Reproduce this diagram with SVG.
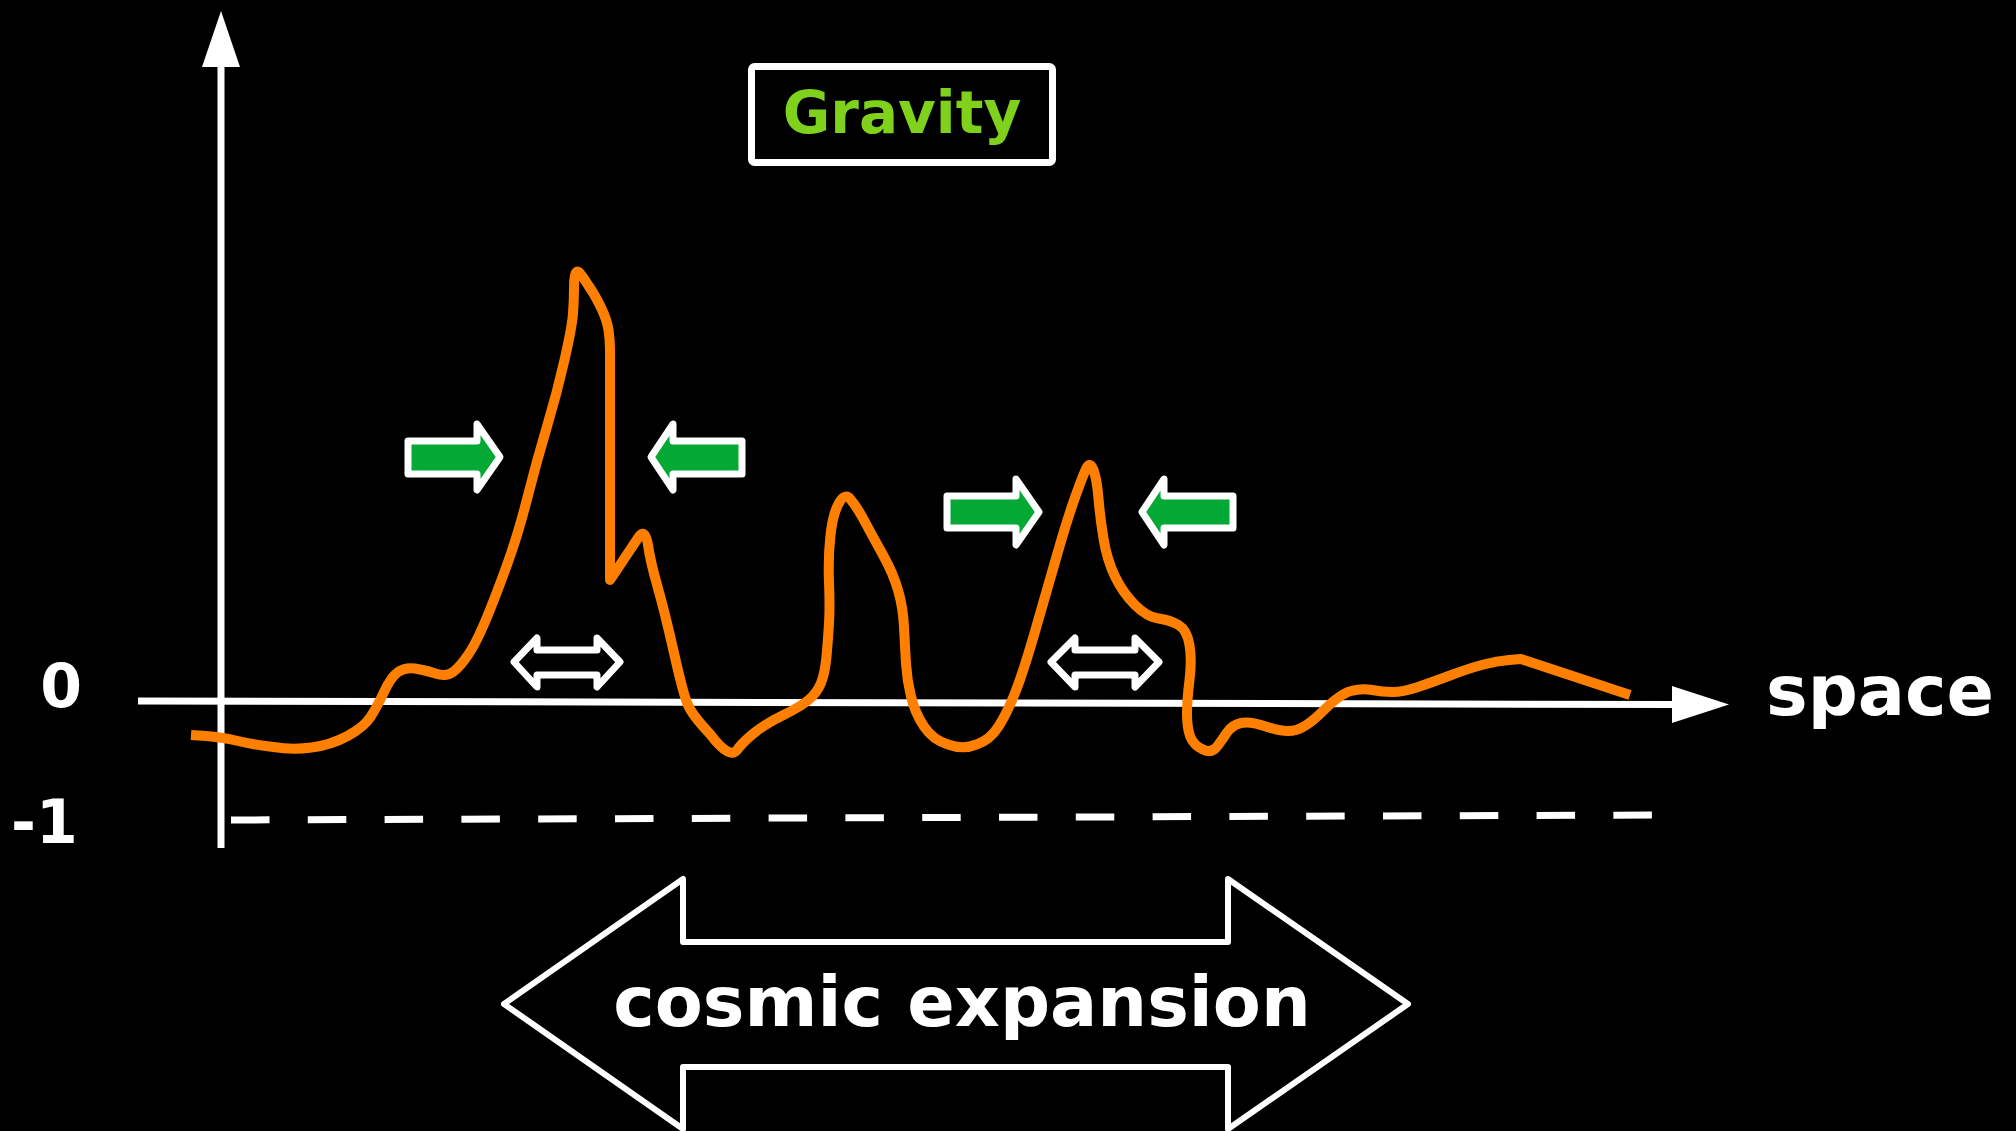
<svg xmlns="http://www.w3.org/2000/svg" width="2016" height="1131" viewBox="0 0 2016 1131">
  <style>
    .lbl { font-family: "DejaVu Sans", "Liberation Sans", sans-serif; font-weight: bold; fill: #ffffff; }
    .axis { stroke: #ffffff; stroke-width: 7; fill: none; }
    .green { fill: #03a934; stroke: #ffffff; stroke-width: 7; stroke-linejoin: round; }
    .dbl { fill: #000000; stroke: #ffffff; stroke-width: 7; stroke-linejoin: round; }
    .curve { fill: none; stroke: #ff8000; stroke-width: 10; stroke-linejoin: round; stroke-linecap: butt; }
  </style>
  <rect x="0" y="0" width="2016" height="1131" fill="#000000"/>

  <g id="connectors">
    <g id="y-axis">
      <line class="axis" x1="221" y1="60" x2="221" y2="848"/>
      <polygon points="221,11 202,67 240,67" fill="#ffffff"/>
    </g>
    <g id="x-axis">
      <line class="axis" x1="138" y1="701" x2="1675" y2="704.5"/>
      <polygon points="1672,686 1729,704.5 1672,723" fill="#ffffff"/>
    </g>
    <line id="minus-one-line" class="axis" x1="231" y1="820" x2="1652" y2="815" stroke-dasharray="38.5 38.3"/>
  </g>

  <g id="axis-labels">
    <text class="lbl" x="61" y="707" font-size="60" text-anchor="middle">0</text>
    <text class="lbl" x="11" y="843" font-size="60">-1</text>
    <text class="lbl" x="1880" y="715" font-size="70" text-anchor="middle">space</text>
  </g>

  <g id="density-curve">
    <path class="curve" d="M191,735 L206,736 Q221,737 238,741 Q255,745 273.5,747 Q292,750 311.5,747.5 Q331,745 347.5,736 Q364,727 370.5,717 Q377,707 384,692 Q391,677 398,672 Q405,667 415,668.5 Q425,670 435.5,673.5 Q446,677 453,672 Q460,667 469,653.5 Q478,640 490.5,608.5 Q503,577 511.5,552 Q520,527 528.5,493.5 Q537,460 547,426.5 Q557,393 564.5,360 Q572,327 573,313.5 Q574,300 574,288 Q574,274 576,272.5 Q578,270 580.5,274 Q583,277 589,286.5 Q595,295 601,307.5 Q607,320 608.5,330 Q610,340 610,350 L610,580 L638,538 Q645,527 648,545 Q650,560 657.5,586.5 Q665,613 674,653 Q683,693 687.5,704 Q692,715 710,734 Q731,762 738.5,748 Q745,740 756,731.5 Q767,723 783.5,715 Q800,707 808.5,700 Q817,693 821,683 Q825,673 826.5,656.5 Q828,640 829,623.5 Q830,607 829,582 Q828,557 830.5,535 Q833,513 839,503 Q845,492 851,500 Q857,507 865,522 Q873,537 883,555 Q893,573 898,590 Q903,607 904,627 Q905,647 906,663.5 Q907,680 911,696.5 Q915,713 924,726.5 Q933,740 948,744.5 Q963,750 976.5,744.5 Q990,740 998.5,726.5 Q1007,713 1015,693 Q1023,673 1035,631.5 Q1047,590 1057,555 Q1067,520 1075,497.5 Q1083,475 1086.5,468 Q1090,461 1093.5,470 Q1097,480 1098.5,498.5 Q1100,517 1103.5,538.5 Q1107,560 1115,576.5 Q1123,593 1135,605 Q1147,617 1158.5,618.5 Q1170,620 1178.5,625 Q1187,630 1189.5,645 Q1192,660 1189.5,680 Q1187,700 1187,713.5 Q1187,727 1190,736 Q1194,746 1203,749.5 Q1212,754 1217.5,746 Q1222,740 1227,732.5 Q1232,725 1241,723 Q1250,721 1267.5,727 Q1285,733 1296,730 Q1307,727 1323.5,710.5 Q1340,694 1351,691 Q1362,688 1372,690 Q1382,692 1392.5,692 Q1403,692 1416.5,687.5 Q1430,683 1450,675.5 Q1470,668 1483.5,664.5 Q1497,661 1509,660 L1521,659 L1630,695"/>
  </g>

  <g id="gravity">
    <rect x="751.5" y="66.5" width="301" height="96" rx="3" fill="#000000" stroke="#ffffff" stroke-width="7"/>
    <text x="902" y="133" font-size="58" text-anchor="middle" font-family="DejaVu Sans, Liberation Sans, sans-serif" font-weight="bold" fill="#80d11c">Gravity</text>
  </g>

  <g id="gravity-arrow-1"><path class="green" d="M408,441 H477 V424 L500,457 L477,490 V474 H408 Z"/></g>
  <g id="gravity-arrow-2"><path class="green" d="M742,441 H673 V424 L651,457 L673,490 V474 H742 Z"/></g>
  <g id="gravity-arrow-3"><path class="green" d="M947,496 H1016 V479 L1039,512 L1016,545 V528 H947 Z"/></g>
  <g id="gravity-arrow-4"><path class="green" d="M1233,496 H1164 V479 L1142,512 L1164,545 V528 H1233 Z"/></g>

  <g id="spread-arrow-1"><path class="dbl" d="M514,662 L537,638 V650 H597 V638 L620,662 L597,687 V675 H537 V687 Z"/></g>
  <g id="spread-arrow-2"><path class="dbl" d="M1051,662 L1075,638 V650 H1135 V638 L1159,662 L1135,687 V675 H1075 V687 Z"/></g>

  <g id="cosmic-expansion">
    <path d="M504,1004 L683,879 V942 H1228 V879 L1408,1004 L1228,1129 V1067 H683 V1129 Z" fill="#000000" stroke="#ffffff" stroke-width="6" stroke-linejoin="round"/>
    <text class="lbl" x="962" y="1026" font-size="70" text-anchor="middle">cosmic expansion</text>
  </g>
</svg>
